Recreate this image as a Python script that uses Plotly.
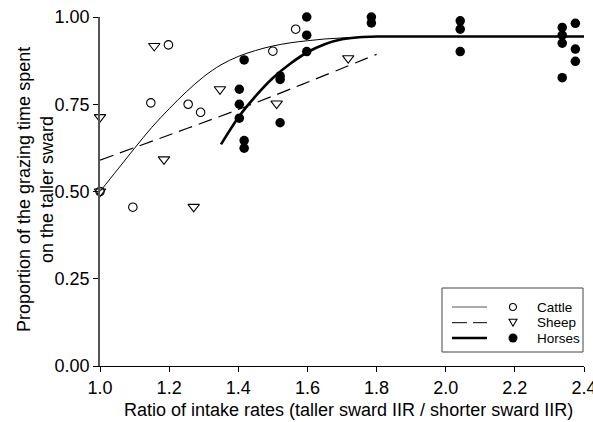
import plotly.graph_objects as go

cattle_x = [1.00, 1.095, 1.147, 1.198, 1.255, 1.291, 1.50, 1.566]
cattle_y = [0.50, 0.455, 0.754, 0.920, 0.750, 0.727, 0.902, 0.965]

sheep_x = [1.00, 1.00, 1.157, 1.185, 1.271, 1.347, 1.511, 1.718]
sheep_y = [0.713, 0.50, 0.917, 0.592, 0.456, 0.793, 0.752, 0.882]

horse_x = [1.403, 1.403, 1.403, 1.417, 1.417, 1.417,
           1.521, 1.521, 1.521,
           1.598, 1.598, 1.598,
           1.785, 1.785,
           2.042, 2.042, 2.042,
           2.337, 2.337, 2.337, 2.337,
           2.375, 2.375, 2.375]
horse_y = [0.793, 0.750, 0.710, 0.877, 0.646, 0.624,
           0.831, 0.821, 0.697,
           1.000, 0.948, 0.901,
           1.000, 0.983,
           0.989, 0.965, 0.901,
           0.970, 0.948, 0.925, 0.826,
           0.982, 0.908, 0.873]

# ---- fitted curves ----
cattle_fit_x = [1.00, 1.05, 1.10, 1.15, 1.20, 1.25, 1.30, 1.35, 1.40, 1.45,
                1.50, 1.55, 1.60, 1.65, 1.70, 1.75, 1.80]
cattle_fit_y = [0.500, 0.562, 0.624, 0.684, 0.737, 0.786, 0.829, 0.863, 0.887, 0.904,
                0.917, 0.926, 0.932, 0.937, 0.940, 0.942, 0.944]

sheep_fit_x = [1.00, 1.20, 1.40, 1.60, 1.80]
sheep_fit_y = [0.590, 0.662, 0.735, 0.813, 0.893]

horse_fit_x = [1.35, 1.40, 1.45, 1.50, 1.55, 1.60, 1.65, 1.70, 1.75, 1.80,
               1.90, 2.00, 2.10, 2.20, 2.30, 2.40]
horse_fit_y = [0.635, 0.712, 0.773, 0.825, 0.866, 0.899, 0.922, 0.936, 0.942, 0.944,
               0.944, 0.944, 0.944, 0.944, 0.944, 0.944]

x_ticks = [1.0, 1.2, 1.4, 1.6, 1.8, 2.0, 2.2, 2.4]
y_ticks = [0.00, 0.25, 0.50, 0.75, 1.00]

legend_labels = ["Cattle", "Sheep", "Horses"]

FONT = "Liberation Sans, Arial, sans-serif"

fig = go.Figure()

fig.add_trace(go.Scatter(x=cattle_fit_x, y=cattle_fit_y, mode="lines",
                         line=dict(color="black", width=1, shape="spline"),
                         showlegend=False, hoverinfo="skip"))
fig.add_trace(go.Scatter(x=sheep_fit_x, y=sheep_fit_y, mode="lines",
                         line=dict(color="black", width=1.2, dash="14px,7px", shape="spline"),
                         showlegend=False, hoverinfo="skip"))
fig.add_trace(go.Scatter(x=horse_fit_x, y=horse_fit_y, mode="lines",
                         line=dict(color="black", width=2.6, shape="spline", smoothing=0.8),
                         showlegend=False, hoverinfo="skip"))

fig.add_trace(go.Scatter(x=cattle_x, y=cattle_y, mode="markers", cliponaxis=False,
                         marker=dict(symbol="circle-open", size=8.5, color="black",
                                     line=dict(width=1.1, color="black")),
                         showlegend=False))
fig.add_trace(go.Scatter(x=sheep_x, y=sheep_y, mode="markers", cliponaxis=False,
                         marker=dict(symbol="triangle-down-open", size=10, color="black",
                                     line=dict(width=1.1, color="black")),
                         showlegend=False))
fig.add_trace(go.Scatter(x=horse_x, y=horse_y, mode="markers", cliponaxis=False,
                         marker=dict(symbol="circle", size=9.5, color="black"),
                         showlegend=False))

# ---- hand-drawn legend box (paper coordinates) ----
L, R, T, B = 100, 584, 17, 366
def px(x):
    return (x - L) / (R - L)
def py(y):
    return (B - y) / (B - T)

shapes = []
shapes.append(dict(type="rect", xref="paper", yref="paper",
                   x0=px(442), x1=px(583), y0=py(352), y1=py(288),
                   line=dict(color="#444", width=1), fillcolor="white", layer="above"))
rows = [307, 322.7, 338]
line_styles = [dict(color="#555", width=1),
               dict(color="black", width=1, dash="15px,6px"),
               dict(color="black", width=2.6)]
for r, ls in zip(rows, line_styles):
    shapes.append(dict(type="line", xref="paper", yref="paper",
                       x0=px(452), x1=px(487), y0=py(r), y1=py(r), line=ls, layer="above"))
mx = px(513)
shapes.append(dict(type="circle", xref="paper", yref="paper", xsizemode="pixel", ysizemode="pixel",
                   xanchor=mx, yanchor=py(rows[0]), x0=-3.5, x1=3.5, y0=-3.5, y1=3.5,
                   line=dict(color="black", width=1.1), layer="above"))
shapes.append(dict(type="path", xref="paper", yref="paper", xsizemode="pixel", ysizemode="pixel",
                   xanchor=mx, yanchor=py(rows[1]), path="M-4,3.5 L4,3.5 L0,-3.5 Z",
                   line=dict(color="black", width=1.1), layer="above"))
shapes.append(dict(type="circle", xref="paper", yref="paper", xsizemode="pixel", ysizemode="pixel",
                   xanchor=mx, yanchor=py(rows[2]), x0=-4.5, x1=4.5, y0=-4.5, y1=4.5,
                   line=dict(color="black", width=0), fillcolor="black", layer="above"))

annotations = []
for r, lab in zip(rows, legend_labels):
    annotations.append(dict(xref="paper", yref="paper", x=px(535), y=py(r), text=lab,
                            showarrow=False, xanchor="left", yanchor="middle",
                            font=dict(family=FONT, size=13.5, color="black")))

annotations.append(dict(xref="paper", yref="paper", x=px(35), y=py(190),
                        text="Proportion of the grazing time spent<br>on the taller sward",
                        textangle=-90, showarrow=False, xanchor="center", yanchor="middle",
                        font=dict(family=FONT, size=18, color="black")))
annotations.append(dict(xref="paper", yref="paper", x=px(348), y=py(410),
                        text="Ratio of intake rates (taller sward IIR / shorter sward IIR)",
                        showarrow=False, xanchor="center", yanchor="middle",
                        font=dict(family=FONT, size=18, color="black")))

fig.update_layout(
    width=593, height=422,
    margin=dict(l=L, r=593 - R, t=T, b=422 - B, autoexpand=False),
    paper_bgcolor="white", plot_bgcolor="white",
    font=dict(family=FONT, size=18, color="black"),
    shapes=shapes, annotations=annotations,
    showlegend=False,
)
fig.update_xaxes(range=[1.0, 2.4], tickvals=x_ticks, ticktext=[f"{v:.1f}" for v in x_ticks],
                 showgrid=False, zeroline=False, showline=True, linecolor="black", linewidth=1,
                 ticks="outside", ticklen=5, tickcolor="black", tickwidth=1,
                 ticklabeloverflow="allow", automargin=False,
                 tickfont=dict(family=FONT, size=18))
fig.update_yaxes(range=[0, 1.0], tickvals=y_ticks, ticktext=[f"{v:.2f}" for v in y_ticks],
                 showgrid=False, zeroline=False, showline=True, linecolor="#555", linewidth=1.6,
                 ticks="outside", ticklen=5, tickcolor="black", tickwidth=1,
                 ticklabeloverflow="allow", automargin=False,
                 tickfont=dict(family=FONT, size=18))

fig.write_html("out.html", config={"displayModeBar": False},
               post_script="document.body.style.margin='0';document.body.style.padding='0';")
